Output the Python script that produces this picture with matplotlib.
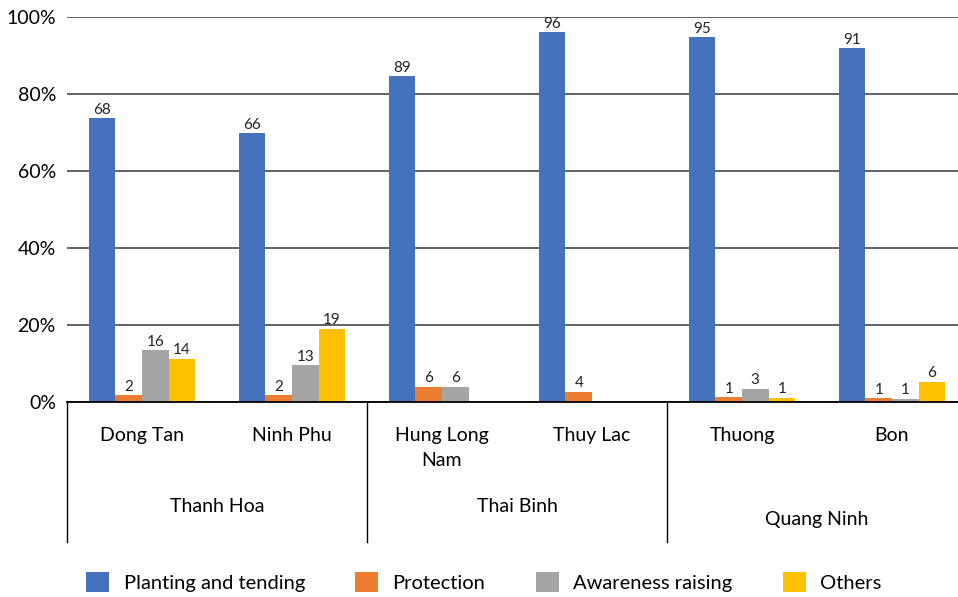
import numpy as np
import matplotlib.pyplot as plt
from matplotlib.transforms import blended_transform_factory
from matplotlib.patches import Patch

plt.rcParams['font.family'] = ['Lato', 'DejaVu Sans']

# Data
sites = ['Dong Tan', 'Ninh Phu', 'Hung Long\nNam', 'Thuy Lac', 'Thuong', 'Bon']
provinces = ['Thanh Hoa', 'Thai Binh', 'Quang Ninh']
series = ['Planting and tending', 'Protection', 'Awareness raising', 'Others']
colors = ['#4671BC', '#ED7D31', '#A5A5A5', '#FFC000']

# bar heights (share, %)
planting = [73.8, 69.9, 84.7, 96.1, 94.8, 92.0]
protection = [1.8, 1.8, 3.9, 2.6, 1.2, 1.0]
awareness = [13.5, 9.6, 3.9, 0, 3.4, 0.8]
others = [11.2, 19.0, 0, 0, 1.1, 5.2]

# labels above bars (counts)
planting_n = ['68', '66', '89', '96', '95', '91']
protection_n = ['2', '2', '6', '4', '1', '1']
awareness_n = ['16', '13', '6', '', '3', '1']
others_n = ['14', '19', '', '', '1', '6']

heights = [planting, protection, awareness, others]
counts = [planting_n, protection_n, awareness_n, others_n]

fig = plt.figure(figsize=(9.58, 5.97), dpi=100)
ax = fig.add_axes([67/958, 1 - 402/597, 891/958, 384.7/597])

x = np.arange(len(sites))
w = 0.177
for i in range(4):
    pos = x + (i - 1.5) * w
    bars = ax.bar(pos, np.array(heights[i]) / 100, w, color=colors[i], zorder=3)
    for b, lab in zip(bars, counts[i]):
        if lab:
            ax.text(b.get_x() + b.get_width()/2, b.get_height() + 0.004, lab,
                    ha='center', va='bottom', fontsize=11, color='#222222')

ax.set_xlim(-0.5, 5.44)
ax.set_ylim(0, 1)
ax.set_yticks(np.arange(0, 1.01, 0.2))
ax.set_yticklabels(['%d%%' % v for v in range(0, 101, 20)], fontsize=14)
ax.tick_params(axis='y', length=0, pad=8)
ax.set_xticks([])
ax.grid(axis='y', color='#555555', linewidth=1.3, zorder=0)
for s in ['top', 'right', 'left']:
    ax.spines[s].set_visible(False)
ax.spines['bottom'].set_linewidth(1.3)
ax.spines['bottom'].set_zorder(4)

# multi-level category axis
def yfrac(py):
    return (402 - py) / 384.7

tr = blended_transform_factory(ax.transData, ax.transAxes)
for xb in [-0.5, 1.5, 3.5]:
    ax.plot([xb, xb], [0, yfrac(542)], color='black', linewidth=1,
            transform=tr, clip_on=False)

for xi, name in zip(x, sites):
    ax.text(xi, yfrac(427), name, transform=tr, ha='center', va='top',
            fontsize=14, linespacing=1.6)

prov_x = [0.5, 2.5, 4.5]
prov_y = [506, 506, 519]
for px, py, name in zip(prov_x, prov_y, provinces):
    ax.text(px, yfrac(py), name, transform=tr, ha='center', va='center', fontsize=14)

handles = [Patch(facecolor=c, edgecolor='none') for c in colors]
fig.legend(handles, series, loc='center', bbox_to_anchor=(0.505, 1 - 582/597),
           ncol=4, frameon=False, fontsize=14.5, handlelength=1.15, handleheight=1.15,
           columnspacing=2.5, handletextpad=0.7)

fig.savefig('out.png', dpi=100)
